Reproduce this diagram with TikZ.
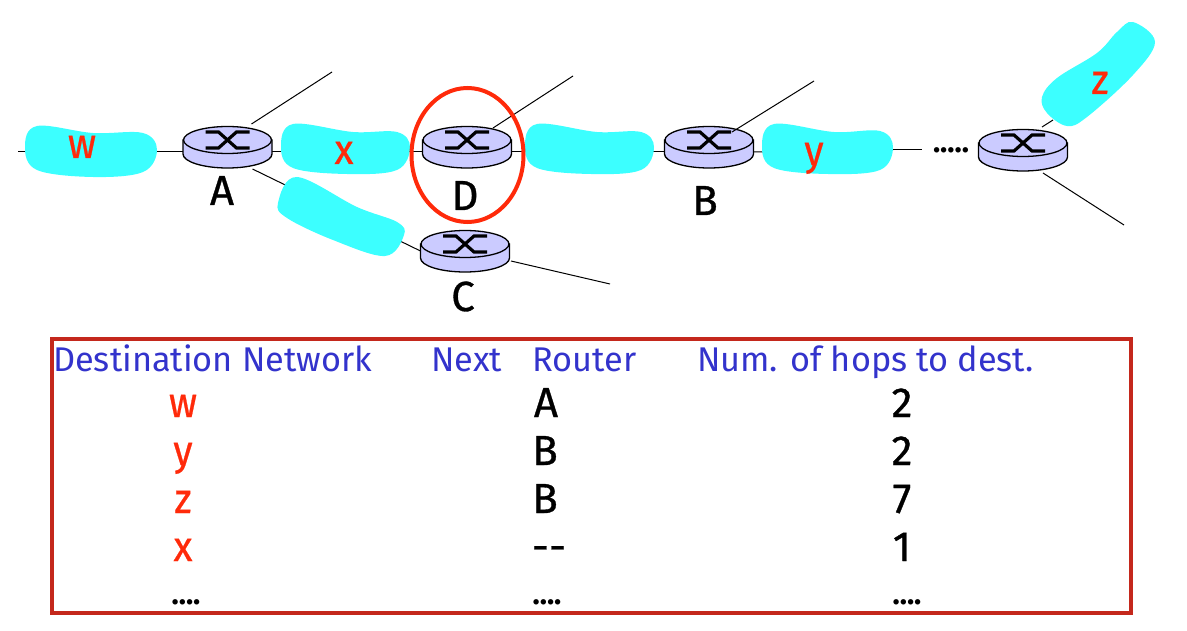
\documentclass[tikz,border=0pt]{standalone}
\usetikzlibrary{shapes.geometric}
\usepackage{fontspec}
\setmainfont{Fira Sans}
\newfontfamily\heavyfont[FakeBold=0.8]{Fira Sans}
\newfontfamily\netfont[FakeStretch=0.93,FakeBold=0.6]{Fira Sans}
\definecolor{blobc}{HTML}{3CFFFF}
\definecolor{routerc}{HTML}{CBCBFF}
\definecolor{redc}{HTML}{FF2A0A}
\definecolor{boxc}{HTML}{C4281C}
\definecolor{headc}{HTML}{3333CC}
\tikzset{
  x=1pt,y=-1pt,
  wire/.style={draw=black,line width=1pt},
  blob/.style={fill=blobc,draw=none},
  routerspot/.style={draw=none,fill=none,minimum width=89pt,minimum height=28pt,inner sep=0pt,outer sep=0pt},
  lab/.style={font=\heavyfont\fontsize{42}{42}\selectfont,text=black,inner sep=0pt,anchor=base},
  net/.style={font=\netfont\fontsize{42}{42}\selectfont,text=redc,inner sep=0pt,anchor=base},
  head/.style={font=\fontsize{34.3}{34.3}\selectfont,text=headc,inner sep=0pt,anchor=base west},
  cell/.style={lab},
  netcell/.style={net},
  router/.pic={
    \path[fill=routerc,draw=black,line width=1.3pt]
      (-44.5,-7) -- (-44.5,7) .. controls (-44.5,14.7) and (-24.5,21) .. (0,21)
      .. controls (24.5,21) and (44.5,14.7) .. (44.5,7) -- (44.5,-7) -- cycle;
    \path[fill=routerc,draw=black,line width=1.3pt] (0,-7) ellipse[x radius=44,y radius=13.5];
    \draw[line width=3.2pt] (-22,-15) -- (-9,-15) -- (9,1) -- (22,1);
    \draw[line width=3.2pt] (-22,1) -- (-9,1) -- (9,-15) -- (22,-15);
  }
}
\begin{document}
\begin{tikzpicture}
\useasboundingbox (0,0) rectangle (1187,631);
% router anchors
\node[routerspot] (A) at (227.5,147) {};
\node[routerspot] (D) at (467,147) {};
\node[routerspot] (B) at (709,147) {};
\node[routerspot] (C) at (465,251) {};
\node[routerspot] (Z) at (1023,150) {};
% free ends
\coordinate (wl) at (18,152);
\coordinate (Aup) at (332,72);
\coordinate (Dup) at (573,76);
\coordinate (Bup) at (814,81);
\coordinate (Cout) at (610,284);
\coordinate (Zout) at (1124,225);
\coordinate (Zup) at (1053,120);
\coordinate (yout) at (922,150);
\coordinate (yin) at (893,150);
% connectors
\draw[wire] (wl) -- (A.west |- wl);
\draw[wire] (A.east |- wl) -- (D.west |- wl);
\draw[wire] (D.east |- wl) -- (B.west |- wl);
\draw[wire] (B.east |- wl) -- (yin);
\draw[wire] (yin) -- (yout);
\draw[wire] ([xshift=24pt,yshift=23pt]A.center) -- (Aup);
\draw[wire] ([xshift=26pt,yshift=19pt]D.center) -- (Dup);
\draw[wire] ([xshift=25pt,yshift=-22pt]A.center) -- (C.west);
\draw[wire] ([xshift=46pt,yshift=-10pt]C.center) -- (Cout);
\draw[wire] ([xshift=20pt,yshift=-23pt]Z.center) -- (Zout);
\draw[wire] ([xshift=19pt,yshift=23pt]Z.center) -- (Zup);
% networks
\path[blob] plot[smooth cycle,tension=0.6] coordinates {(25,147) (37,126) (93,133) (143,133) (157,150) (143,172) (93,177) (37,170)};
\foreach \sh in {0,244}{
  \path[blob,xshift=\sh] plot[smooth cycle,tension=0.6] coordinates {(281,147) (293,124) (353,132) (397,132) (410,147) (397,170) (347,174) (293,168)};
}
\path[blob,xshift=481] plot[smooth cycle,tension=0.6] coordinates {(281,147) (293,124) (353,132) (399,131) (412,147) (399,170) (347,174) (293,168)};
\path[blob] plot[smooth cycle,tension=0.6] coordinates {(278,203) (297,177) (357,207) (397,222) (404,235) (385,256) (333,240) (287,218)};
\path[blob] plot[smooth cycle,tension=0.6] coordinates {(1133,22) (1155,42) (1133,75) (1087,117) (1067,126) (1047,113) (1042,97) (1057,78) (1097,53) (1117,32)};
% routers
\foreach \n in {A,D,B,C,Z}{ \pic at (\n.center) {router}; }
\draw[wire] ([xshift=23pt,yshift=15pt]B.center) -- (Bup);
% ring
\node[draw=redc,line width=4pt,ellipse,minimum width=112pt,minimum height=134pt,inner sep=0pt] (ring) at (467.5,155) {};
% dots
\node[font=\bfseries\fontsize{30}{30}\selectfont,inner sep=0pt,anchor=base] (dots) at (951,153) {.....};
% labels
\node[lab] (la) at (222,205) {A};
\node[lab] (ld) at (465,210) {D};
\node[lab] (lb) at (705,215) {B};
\node[lab] (lc) at (463,311) {C};
\node[net] (nw) at (82,158) {w};
\node[net] (nx) at (344,164) {x};
\node[net] (ny) at (814,165) {y};
\node[net] (nz) at (1100,94) {z};
% table
\node[draw=boxc,line width=4pt,minimum width=1079pt,minimum height=274pt,inner sep=0pt] (table) at (591.5,476) {};
\node[head] (h1) at (53,371) {Destination Network};
\node[head] (h2) at (431,371) {Next};
\node[head] (h3) at (532,371) {Router};
\node[head] (h4) at (697,371) {Num. of hops to dest.};
\foreach \yy/\a/\b/\bx/\c in {417/w/A/546/2,465/y/B/545/2,513/z/B/545/7,561/x/{-{}-}/549/1}{
  \node[netcell] at (183,\yy) {\a};
  \node[cell] at (\bx,\yy) {\b};
  \node[cell] at (902,\yy) {\c};
}
\foreach \xx in {186,547,907}{
  \node[font=\bfseries\fontsize{30}{30}\selectfont,inner sep=0pt,anchor=base] at (\xx,604) {....};
}
\end{tikzpicture}
\end{document}
